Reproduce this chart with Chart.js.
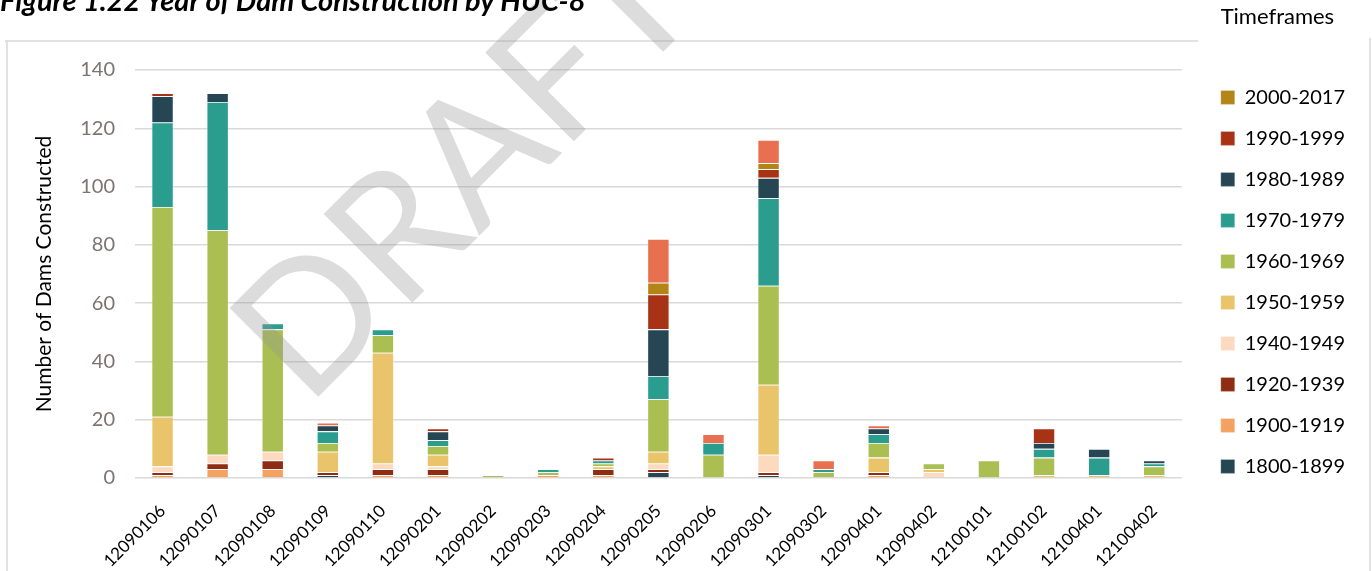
<!DOCTYPE html>
<html>
<head>
<meta charset="utf-8">
<script src="https://cdn.jsdelivr.net/npm/chart.js@4.4.1/dist/chart.umd.min.js"></script>
<style>
    html, body { margin: 0; padding: 0; background: #fff; overflow: hidden; }
    #wrap { position: relative; width: 1372px; height: 571px; overflow: hidden; }
    #damChart { position: absolute; left: 0; top: 0; }
    #figTitle {
        position: absolute; left: 0; top: -15px;
        font: italic bold 29px/29px Lato, sans-serif; color: #000; white-space: nowrap;
    }
</style>
</head>
<body>
<div id="wrap">
    <canvas id="damChart" width="1372" height="571"></canvas>
    <div id="figTitle">Figure 1.22 Year of Dam Construction by HUC-8</div>
</div>
<script>
// HUC-8 watersheds
const hucCodes = ['12090106', '12090107', '12090108', '12090109', '12090110', '12090201', '12090202',
    '12090203', '12090204', '12090205', '12090206', '12090301', '12090302', '12090401', '12090402',
    '12100101', '12100102', '12100401', '12100402'];

// dams built per timeframe (stack order, bottom first)
const dams1800s = [0, 0, 0, 1, 0, 0, 0, 0, 0, 2, 0, 1, 0, 0, 0, 0, 0, 0, 0];
const dams1900to1919 = [1, 3, 3, 0, 1, 1, 0, 1, 1, 0, 0, 0, 0, 1, 0, 0, 0, 0, 0];
const dams1920to1939 = [1, 2, 3, 1, 2, 2, 0, 0, 2, 1, 0, 1, 0, 1, 0, 0, 0, 0, 0];
const dams1940s = [2, 3, 3, 0, 2, 1, 0, 0, 0, 2, 0, 6, 0, 0, 2, 0, 0, 0, 0];
const dams1950s = [17, 0, 0, 7, 38, 4, 0, 0, 1, 4, 0, 24, 0, 5, 1, 0, 1, 1, 1];
const dams1960s = [72, 77, 42, 3, 6, 3, 1, 1, 1, 18, 8, 34, 2, 5, 2, 6, 6, 0, 3];
const dams1970s = [29, 44, 2, 4, 2, 2, 0, 1, 1, 8, 4, 30, 1, 3, 0, 0, 3, 6, 1];
const dams1980s = [9, 3, 0, 2, 0, 3, 0, 0, 0, 16, 0, 7, 0, 2, 0, 0, 2, 3, 1];
const dams1990s = [1, 0, 0, 0, 0, 1, 0, 0, 1, 12, 0, 3, 0, 0, 0, 0, 5, 0, 0];
const dams2000to2017 = [0, 0, 0, 0, 0, 0, 0, 0, 0, 4, 0, 2, 0, 0, 0, 0, 0, 0, 0];
const damsUnknown = [0, 0, 0, 1, 0, 0, 0, 0, 0, 15, 3, 8, 3, 1, 0, 0, 0, 0, 0];

const periodLabels = ['1800-1899', '1900-1919', '1920-1939', '1940-1949', '1950-1959', '1960-1969',
    '1970-1979', '1980-1989', '1990-1999', '2000-2017', 'Unknown'];
const periodData = [dams1800s, dams1900to1919, dams1920to1939, dams1940s, dams1950s, dams1960s,
    dams1970s, dams1980s, dams1990s, dams2000to2017, damsUnknown];
const periodColors = ['#264653', '#F4A261', '#8E2C14', '#FCD9BF', '#E9C46A', '#ABBE52',
    '#2A9D8F', '#264653', '#A83215', '#B38519', '#E96F51'];

const yTicks = [0, 20, 40, 60, 80, 100, 120, 140];

// frame around the chart and the DRAFT stamp
const decorPlugin = {
    id: 'decor',
    beforeDraw(chart) {
        const ctx = chart.ctx;
        ctx.save();
        ctx.strokeStyle = '#d9d9d9';
        ctx.lineWidth = 1.5;
        ctx.beginPath();
        ctx.moveTo(5, 41); ctx.lineTo(1198, 41);
        ctx.moveTo(7, 41); ctx.lineTo(7, 571);
        ctx.moveTo(1370, 38); ctx.lineTo(1370, 571);
        ctx.stroke();
        ctx.restore();
    },
    afterDraw(chart) {
        const ctx = chart.ctx;
        ctx.save();
        ctx.translate(307, 408);
        ctx.rotate(-Math.PI / 4);
        ctx.font = '400 175px Lato, sans-serif';
        ctx.textAlign = 'left';
        ctx.textBaseline = 'alphabetic';
        ctx.fillStyle = 'rgba(150, 150, 150, 0.33)';
        ctx.fillText('DRAFT', 0, 0);
        ctx.restore();
    }
};

Chart.defaults.font.family = 'Lato, sans-serif';

const ctx = document.getElementById('damChart').getContext('2d');
new Chart(ctx, {
    type: 'bar',
    data: {
        labels: hucCodes,
        datasets: periodLabels.map((label, i) => ({
            label: label,
            data: periodData[i],
            backgroundColor: periodColors[i],
            borderColor: 'rgba(255, 255, 255, 0.35)',
            borderWidth: 0.8,
            categoryPercentage: 1,
            barPercentage: 0.4
        }))
    },
    options: {
        responsive: false,
        animation: false,
        layout: { padding: { left: 32, right: 17, top: 0, bottom: 0 } },
        plugins: {
            title: {
                display: true,
                text: ' ',
                fullSize: false,
                font: { size: 10, lineHeight: 1 },
                padding: { top: 0, bottom: 60 }
            },
            legend: {
                position: 'right',
                align: 'start',
                reverse: true,
                title: {
                    display: true,
                    text: 'Timeframes',
                    color: '#000',
                    font: { size: 22 },
                    padding: { top: 6, bottom: 34 }
                },
                labels: {
                    boxWidth: 14,
                    boxHeight: 14,
                    padding: 21,
                    color: '#000',
                    font: { size: 20 },
                    filter: item => item.text !== 'Unknown'
                }
            },
            tooltip: { enabled: false }
        },
        scales: {
            x: {
                stacked: true,
                grid: { display: false, drawTicks: false },
                border: { display: false },
                ticks: {
                    autoSkip: false,
                    minRotation: 45,
                    maxRotation: 45,
                    padding: 23,
                    color: '#000',
                    font: { size: 17 }
                },
                afterFit: scale => { scale.height = 93; }
            },
            y: {
                stacked: true,
                min: 0,
                max: 140,
                afterBuildTicks: scale => { scale.ticks = yTicks.map(v => ({ value: v })); },
                grid: { color: '#d9d9d9', lineWidth: 1.5, drawTicks: false },
                border: { display: false },
                ticks: { padding: 20, color: '#7f7272', font: { size: 20 } },
                title: {
                    display: true,
                    text: 'Number of Dams Constructed',
                    color: '#000',
                    font: { size: 21 },
                    padding: { top: 0, bottom: 3 }
                }
            },
            gap: {
                position: 'right',
                display: true,
                grid: { display: false, drawTicks: false },
                border: { display: false },
                ticks: { display: false },
                afterFit: scale => { scale.width = 18; }
            }
        }
    },
    plugins: [decorPlugin]
});
</script>
</body>
</html>
